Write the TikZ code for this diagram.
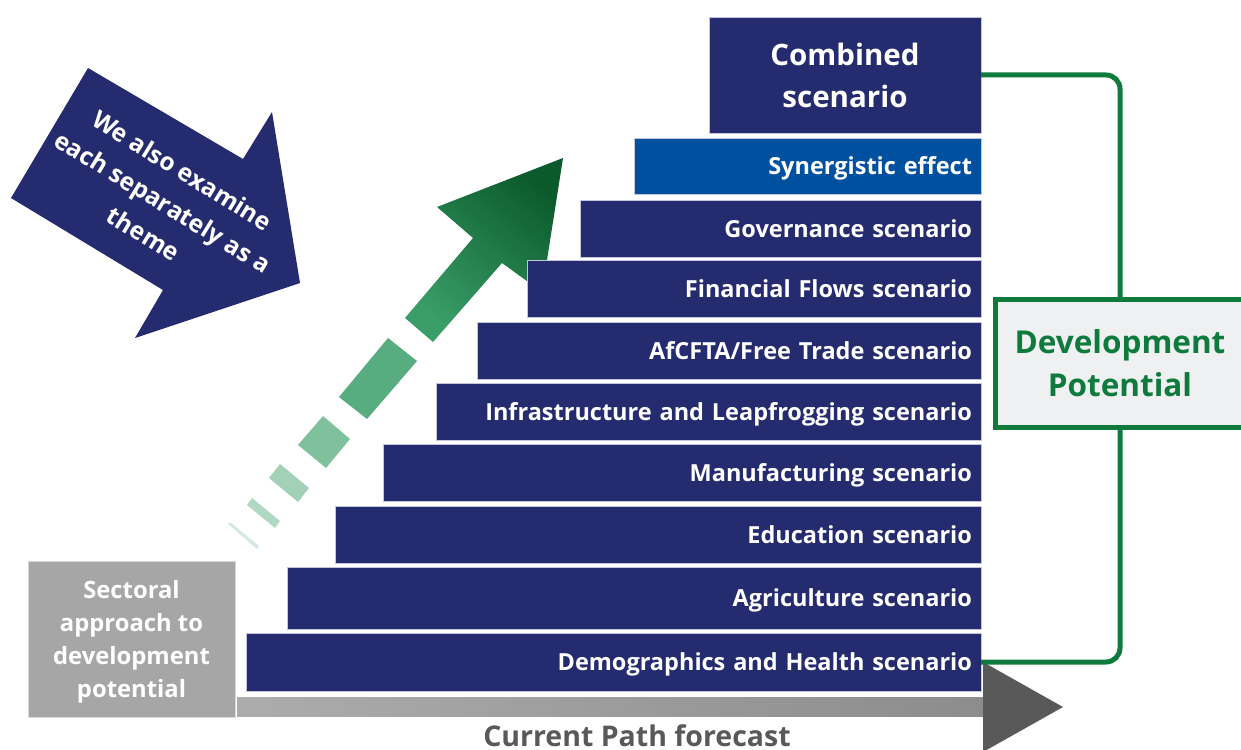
\documentclass[tikz,border=0pt]{standalone}
\usepackage{fontspec}
\setmainfont{Open Sans}

\definecolor{stairnavy}{HTML}{252B6F}
\definecolor{barline}{HTML}{C3C5DD}
\definecolor{synblue}{HTML}{0050A0}
\definecolor{devgreen}{HTML}{0E7A3C}
\definecolor{devfill}{HTML}{EEF0F1}
\definecolor{sectgray}{HTML}{A6A6A6}
\definecolor{pathgray}{HTML}{595959}
\definecolor{arrowdark}{HTML}{0B5A2C}
\definecolor{arrowmid}{HTML}{3A9E68}

\begin{document}
\begin{tikzpicture}[x=1pt, y=-1pt,
    bar/.style={fill=stairnavy, draw=barline, line width=0.8pt, text=white,
        anchor=east, align=right, inner xsep=9pt, inner ysep=0pt, outer sep=0pt,
        text height=17pt, text depth=0pt,
        minimum height=57pt, font=\bfseries\fontsize{23.5}{28}\selectfont},
    bracket/.style={line width=5pt, devgreen, rounded corners=14pt}]

        \useasboundingbox (0,0) rectangle (1241,749);
        \clip (0,0) rectangle (1241,749);

        % Big arrow pointing at the stairs
        \fill[stairnavy] (88,68) -- (243,159) -- (272,112) -- (300,283)
            -- (135,338) -- (163,290) -- (11,198) -- cycle;
        \node[rotate=-31.5, align=center, text=white,
            font=\bfseries\fontsize{24.5}{37}\selectfont] (examine) at (163,202)
            {We also examine\\each separately as a\\theme};

        % Dashed green arrow going up
        \fill[arrowmid!22!white] (228,524) -- (230,522) -- (259,546) -- (257,549) -- cycle;
        \fill[arrowmid!40!white] (252,498) -- (280,521) -- (275,528) -- (247,505) -- cycle;
        \fill[arrowmid!47!white] (280,464) -- (309,488) -- (298,502) -- (269,478) -- cycle;
        \fill[arrowmid!65!white] (323,416) -- (350,439) -- (326,468) -- (298,445) -- cycle;
        \fill[arrowmid!85!white] (388,338) -- (417,361) -- (367,419) -- (339,397) -- cycle;
        \shade[top color=arrowdark, middle color=arrowmid!95!black, bottom color=arrowmid, shading angle=-40]
            (405,318) -- (473,238) -- (437,207) -- (563,158) -- (542,292)
            -- (502,263) -- (433,342) -- cycle;

        % Scenario stairs
        \node[bar, minimum height=116pt, minimum width=272pt, align=center, text height=, text depth=,
            font=\bfseries\fontsize{29.5}{42}\selectfont] (comb) at (981,75) {Combined\\scenario};
        \node[bar, fill=synblue, minimum height=56pt, text width=329pt] (syn) at (981,166) {Synergistic effect};
        \node[bar, text width=383pt] (gov) at (981,228.5) {Governance scenario};
        \node[bar, text width=436pt] (fin) at (981,289) {Financial Flows scenario};
        \node[bar, text width=486pt] (afc) at (981,350.5) {AfCFTA/Free Trade scenario};
        \node[bar, text width=527pt] (infra) at (981,411.5) {Infrastructure and Leapfrogging scenario};
        \node[bar, text width=580pt] (manu) at (981,472.5) {Manufacturing scenario};
        \node[bar, text width=628pt] (edu) at (981,534.5) {Education scenario};
        \node[bar, minimum height=62pt, text width=676pt] (agri) at (981,598) {Agriculture scenario};
        \node[bar, minimum height=58pt, text width=717pt] (demo) at (981,662) {Demographics and Health scenario};

        % Current Path axis
        \shade[left color=gray!65, right color=gray!110!black] (237,697) rectangle (985,716);
        \fill[pathgray] (983,662) -- (1063,707) -- (983,752) -- cycle;
        \node[text=pathgray, font=\bfseries\fontsize{28.5}{34}\selectfont] (cpf) at (637,736) {Current Path forecast};

        % Sectoral box
        \node[fill=sectgray, draw=gray!30, line width=0.8pt, minimum width=207pt, minimum height=156pt,
            text depth=0pt, align=center, text=white, font=\bfseries\fontsize{23.8}{33}\selectfont] (sect) at (131.5,639)
            {Sectoral\\approach to\\development\\potential};

        % Development Potential bracket
        \node[draw=devgreen, line width=5pt, fill=devfill, minimum width=249pt, minimum height=128pt,
            align=center, text=devgreen, font=\bfseries\fontsize{31.5}{43}\selectfont] (devbox) at (1120,363.5)
            {Development\\Potential};
        \draw[bracket] (comb.east) -| (devbox.north);
        \draw[bracket] (devbox.south) |- (demo.east);

\end{tikzpicture}
\end{document}
